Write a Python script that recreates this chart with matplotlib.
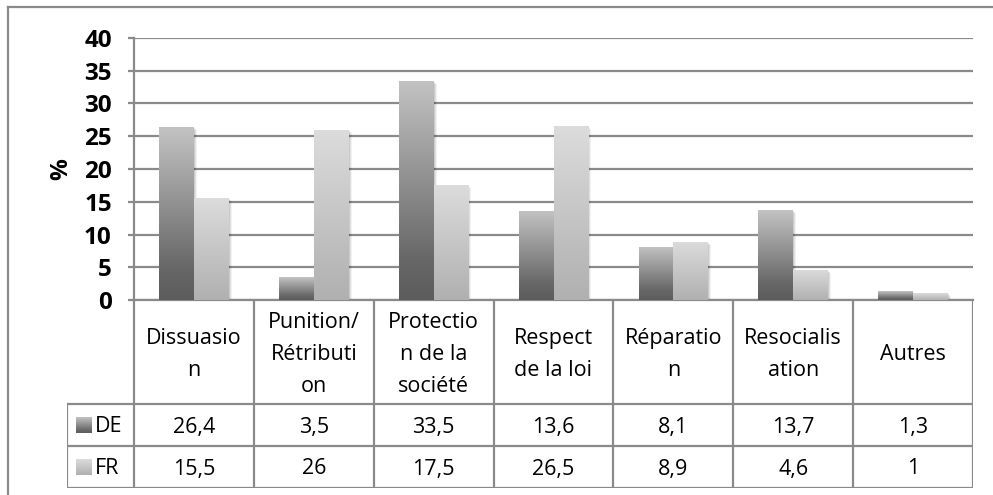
import numpy as np
import matplotlib
matplotlib.use("Agg")
import matplotlib.pyplot as plt
from matplotlib.colors import LinearSegmentedColormap
from matplotlib.patches import Rectangle
from matplotlib.lines import Line2D
import matplotlib.transforms as mtransforms

# ── data ──
categories = ["Dissuasio\nn", "Punition/\nRétributi\non", "Protectio\nn de la\nsociété",
              "Respect\nde la loi", "Réparatio\nn", "Resocialis\nation", "Autres"]
series_names = ["DE", "FR"]
de_values = [26.4, 3.5, 33.5, 13.6, 8.1, 13.7, 1.3]
fr_values = [15.5, 26, 17.5, 26.5, 8.9, 4.6, 1]
yticks = [0, 5, 10, 15, 20, 25, 30, 35, 40]

plt.rcParams["font.family"] = ["Open Sans", "DejaVu Sans"]

W, H = 993, 495
fig = plt.figure(figsize=(W / 100, H / 100), dpi=100)

GRID = "#8a8a8a"
cm_de = LinearSegmentedColormap.from_list("de", [(0, "#5c5c5c"), (0.18, "#676767"), (1, "#c3c3c3")])
cm_fr = LinearSegmentedColormap.from_list("fr", [(0, "#b0b0b0"), (1, "#dcdcdc")])
grad = np.linspace(0, 1, 256).reshape(-1, 1)

# pixel layout
PL, PR, PT, PB = 134, 973, 38, 300
ncat = len(categories)
colw = (PR - PL) / ncat

ax = fig.add_axes([PL / W, 1 - PB / H, (PR - PL) / W, (PB - PT) / H])
ax.set_xlim(-0.5, ncat - 0.5)
ax.set_ylim(0, 40)

x = np.arange(ncat)
bw = 0.29
for vals, cmap, off in [(de_values, cm_de, -bw / 2), (fr_values, cm_fr, bw / 2)]:
    bars = ax.bar(x + off, vals, width=bw, color="none", edgecolor="none", zorder=3)
    for b in bars:
        x0, y0 = b.get_x(), b.get_y()
        w, h = b.get_width(), b.get_height()
        # soft shadow
        for k, a in [(3, 0.05), (2, 0.07), (1, 0.09)]:
            sh = Rectangle((x0, y0), w, h, facecolor="black", edgecolor="none", alpha=a, zorder=2,
                           transform=ax.transData + mtransforms.ScaledTranslation(k / 100, -k / 100, fig.dpi_scale_trans))
            ax.add_patch(sh)
        im = ax.imshow(grad, cmap=cmap, origin="lower", extent=[x0, x0 + w, y0, y0 + h],
                       aspect="auto", zorder=3, interpolation="bilinear")
        im.set_clip_path(b)

ax.set_xlim(-0.5, ncat - 0.5)
ax.set_ylim(0, 40)
ax.set_yticks(yticks)
ax.set_yticklabels([str(t) for t in yticks], fontsize=17.5, fontweight="bold")
ax.set_xticks([])
ax.yaxis.grid(True, color=GRID, linewidth=1.6)
ax.set_axisbelow(True)
ax.tick_params(axis="y", length=4, width=1.6, color=GRID, pad=12)
for s in ["top", "right"]:
    ax.spines[s].set_visible(False)
for s in ["left", "bottom"]:
    ax.spines[s].set_color(GRID)
    ax.spines[s].set_linewidth(1.6)
ax.set_ylabel("%", fontsize=17.5, fontweight="bold", labelpad=8)

# ── data table ──
TL, TB = 67, 488
R1, R2 = 404, 446
lw = (PL - TL) / colw
tab = fig.add_axes([TL / W, 1 - TB / H, (PR - TL) / W, (TB - PB) / H])
tab.set_xlim(-0.5 - lw, ncat - 0.5)
tab.set_ylim(TB, PB)
tab.axis("off")

lk = dict(color=GRID, linewidth=1.6, solid_capstyle="projecting")
for yy in [R1, R2, TB]:
    tab.add_line(Line2D([-0.5 - lw, ncat - 0.5], [yy, yy], **lk))
tab.add_line(Line2D([-0.5 - lw, -0.5 - lw], [R1, TB], **lk))
for i in range(ncat + 1):
    tab.add_line(Line2D([i - 0.5, i - 0.5], [PB, TB], **lk))

fs = 15.5
LSP = 31.5        # line pitch in the header cells, pixels
HBASE = 360       # baseline of a single-line header
for i, c in enumerate(categories):
    lines = c.split("\n")
    first = HBASE - (len(lines) - 1) * LSP / 2
    for j, t in enumerate(lines):
        tab.text(i, first + j * LSP, t, ha="center", va="baseline", fontsize=fs)

rows = [(de_values, cm_de, (R1 + R2) / 2), (fr_values, cm_fr, (R2 + TB) / 2)]
for name, (vals, cmap, yc) in zip(series_names, rows):
    for i, v in enumerate(vals):
        tab.text(i, yc + 7.5, f"{v:g}".replace(".", ","), ha="center", va="baseline", fontsize=fs)
    kx0 = -0.5 - lw + 9 / colw
    tab.imshow(grad, cmap=cmap, origin="lower", extent=[kx0, kx0 + 16 / colw, yc + 8, yc - 8],
               aspect="auto", zorder=3)
    tab.text(kx0 + 19 / colw, yc + 7.5, name, ha="left", va="baseline", fontsize=fs)

tab.set_xlim(-0.5 - lw, ncat - 0.5)
tab.set_ylim(TB, PB)

# outer chart border (cropped on right and bottom)
fig.add_artist(Line2D([8 / W, 1], [1 - 7 / H, 1 - 7 / H], color=GRID, linewidth=1.6))
fig.add_artist(Line2D([8 / W, 8 / W], [0, 1 - 7 / H], color=GRID, linewidth=1.6))

fig.savefig("out.png", dpi=100)
